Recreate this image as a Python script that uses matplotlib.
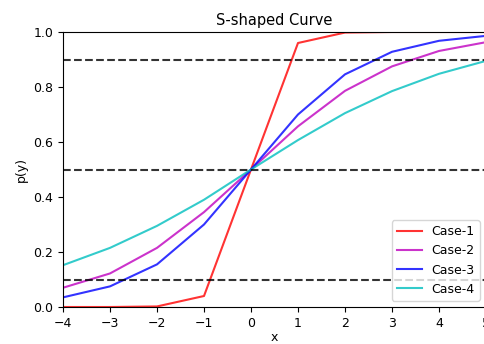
import matplotlib
matplotlib.use("Agg")
import matplotlib.pyplot as plt

x = [-4, -3, -2, -1, 0, 1, 2, 3, 4, 5]
case1 = [0.0, 0.0, 0.002, 0.04, 0.5, 0.96, 0.998, 1.0, 1.0, 1.0]
case2 = [0.07, 0.122, 0.215, 0.345, 0.5, 0.657, 0.786, 0.875, 0.931, 0.963]
case3 = [0.035, 0.075, 0.155, 0.30, 0.5, 0.70, 0.846, 0.928, 0.968, 0.986]
case4 = [0.152, 0.215, 0.295, 0.39, 0.5, 0.607, 0.705, 0.785, 0.848, 0.895]
labels = ["Case-1", "Case-2", "Case-3", "Case-4"]
colors = ["r", "m", "b", "c"]
hlines = [0.1, 0.5, 0.9]

fig = plt.figure(figsize=(4.84, 3.44), dpi=100)
ax = fig.add_axes([63/484, 1 - 307/344, 423/484, 275/344])
for ys, lab, col in zip([case1, case2, case3, case4], labels, colors):
    ax.plot(x, ys, color=col, alpha=0.8, label=lab)
for h in hlines:
    ax.axhline(h, color="k", linestyle="--", alpha=0.8)
ax.set_xlim(-4, 5)
ax.set_ylim(0, 1)
ax.set_title("S-shaped Curve", fontsize=10.5, pad=5)
ax.set_xlabel("x", fontsize=9, labelpad=1)
ax.set_ylabel("p(y)", fontsize=9)
ax.tick_params(labelsize=9)
ax.legend(loc="lower right", fontsize=9)
fig.savefig("out.png", dpi=100)
